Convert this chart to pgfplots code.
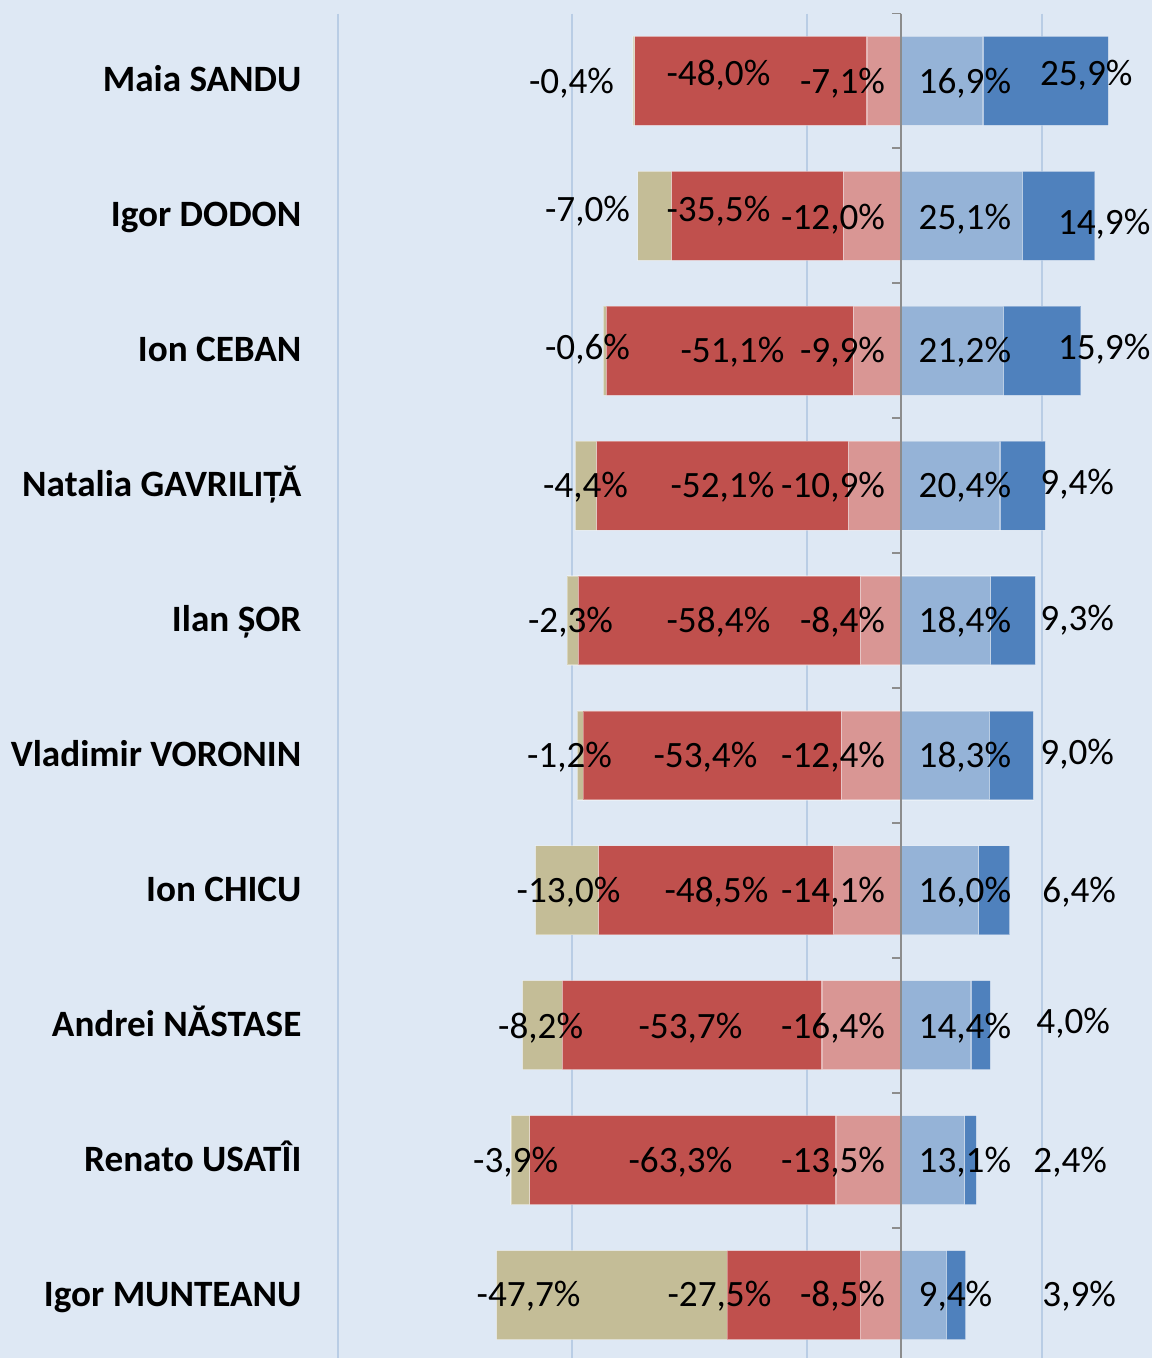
\documentclass[border=0pt]{standalone}
\usepackage{fontspec}
\setmainfont{Carlito}
\usepackage{pgfplots}
\pgfplotsset{compat=1.18}
\definecolor{bg}{HTML}{DEE8F4}
\definecolor{gridc}{HTML}{B9CDE5}
\definecolor{axc}{HTML}{8C8C8C}
\definecolor{tanc}{HTML}{C4BD97}
\definecolor{redc}{HTML}{C0504D}
\definecolor{pinkc}{HTML}{D99694}
\definecolor{lbc}{HTML}{95B3D7}
\definecolor{dbc}{HTML}{4F81BD}
\newcommand\lbl{\fontsize{18.6}{21}\selectfont}
% label: x in px, row, y offset of baseline in px, anchor, text
\newcommand{\lab}[5]{\node[anchor=#4,font=\lbl,inner sep=0pt] at (axis cs:{(#1-902)/4.84},{#2+(#3)/135}) {#5};}
\newcommand{\name}[2]{\node[anchor=base east,font=\lbl\bfseries,inner sep=0pt] at (axis cs:{(302-902)/4.84},{#1+11/135}) {#2};}
\pgfplotsset{
  frame/.style={
    at={(0,0)}, anchor=south west,
    width=576.5pt, height=672.75pt, scale only axis,
    xmin=-186.36, xmax=51.86,
    ymin=-0.5, ymax=9.467, y dir=reverse,
    hide axis, clip=false,
  },
  common/.style={
    frame,
    xbar stacked, bar width=0.66,
    every axis plot/.append style={draw=white, draw opacity=0.35, line width=0.6pt},
  }
}
\begin{document}
\begin{tikzpicture}
\fill[bg] (0,0) rectangle (576.5pt,679.5pt);
% grid lines (behind the bars)
\begin{axis}[frame]
\addplot[draw=none] coordinates {(0,0)};
\foreach \g in {338,572,808,1043}{
  \edef\tmp{\noexpand\draw[gridc, line width=1pt] (axis cs:{(\g-902)/4.84},-0.5) -- (axis cs:{(\g-902)/4.84},9.467);}
  \tmp
}
\end{axis}
% negative side
\begin{axis}[common]
\addplot[fill=pinkc] coordinates {(-7.1,0) (-12.0,1) (-9.9,2) (-10.9,3) (-8.4,4) (-12.4,5) (-14.1,6) (-16.4,7) (-13.5,8) (-8.5,9)};
\addplot[fill=redc] coordinates {(-48.0,0) (-35.5,1) (-51.1,2) (-52.1,3) (-58.4,4) (-53.4,5) (-48.5,6) (-53.7,7) (-63.3,8) (-27.5,9)};
\addplot[fill=tanc] coordinates {(-0.4,0) (-7.0,1) (-0.6,2) (-4.4,3) (-2.3,4) (-1.2,5) (-13.0,6) (-8.2,7) (-3.9,8) (-47.7,9)};
\end{axis}
% positive side
\begin{axis}[common]
\addplot[fill=lbc] coordinates {(16.9,0) (25.1,1) (21.2,2) (20.4,3) (18.4,4) (18.3,5) (16.0,6) (14.4,7) (13.1,8) (9.4,9)};
\addplot[fill=dbc] coordinates {(25.9,0) (14.9,1) (15.9,2) (9.4,3) (9.3,4) (9.0,5) (6.4,6) (4.0,7) (2.4,8) (3.9,9)};
\end{axis}
% axis line and labels
\begin{axis}[frame]
\addplot[draw=none] coordinates {(0,0)};
\draw[axc, line width=1pt] (axis cs:0,-0.5) -- (axis cs:0,9.467);
\foreach \t in {-0.5,0.5,1.5,2.5,3.5,4.5,5.5,6.5,7.5,8.5}{
  \edef\tmp{\noexpand\draw[axc, line width=1pt] (axis cs:0,\t) -- (axis cs:-1.86,\t);}
  \tmp
}
% category names
\name{0}{Maia SANDU}
\name{1}{Igor DODON}
\name{2}{Ion CEBAN}
\name{3}{Natalia GAVRILIȚĂ}
\name{4}{Ilan ȘOR}
\name{5}{Vladimir VORONIN}
\name{6}{Ion CHICU}
\name{7}{Andrei NĂSTASE}
\name{8}{Renato USATÎI}
\name{9}{Igor MUNTEANU}
% tan labels
\lab{572}{0}{12.4}{base}{-0,4\%}
\lab{588}{1}{5.4}{base}{-7,0\%}
\lab{588}{2}{8.4}{base}{-0,6\%}
\lab{586}{3}{12.1}{base}{-4,4\%}
\lab{571}{4}{12.1}{base}{-2,3\%}
\lab{570}{5}{12.1}{base}{-1,2\%}
\lab{569}{6}{12.4}{base}{-13,0\%}
\lab{541}{7}{13.4}{base}{-8,2\%}
\lab{516}{8}{12.4}{base}{-3,9\%}
\lab{529}{9}{11.4}{base}{-47,7\%}
% red labels
\lab{719}{0}{4.9}{base}{-48,0\%}
\lab{719}{1}{5.4}{base}{-35,5\%}
\lab{733}{2}{12.1}{base}{-51,1\%}
\lab{723}{3}{12.1}{base}{-52,1\%}
\lab{719}{4}{12.1}{base}{-58,4\%}
\lab{706}{5}{12.1}{base}{-53,4\%}
\lab{717}{6}{12.4}{base}{-48,5\%}
\lab{691}{7}{13.4}{base}{-53,7\%}
\lab{681}{8}{12.4}{base}{-63,3\%}
\lab{720}{9}{11.4}{base}{-27,5\%}
% pink labels
\lab{886}{0}{12.4}{base east}{-7,1\%}
\lab{886}{1}{13.4}{base east}{-12,0\%}
\lab{886}{2}{12.1}{base east}{-9,9\%}
\lab{886}{3}{12.1}{base east}{-10,9\%}
\lab{886}{4}{12.1}{base east}{-8,4\%}
\lab{886}{5}{12.1}{base east}{-12,4\%}
\lab{886}{6}{12.4}{base east}{-14,1\%}
\lab{886}{7}{13.4}{base east}{-16,4\%}
\lab{886}{8}{12.4}{base east}{-13,5\%}
\lab{886}{9}{11.4}{base east}{-8,5\%}
% light blue labels
\lab{919}{0}{12.4}{base west}{16,9\%}
\lab{919}{1}{13.4}{base west}{25,1\%}
\lab{919}{2}{12.1}{base west}{21,2\%}
\lab{919}{3}{12.1}{base west}{20,4\%}
\lab{919}{4}{12.1}{base west}{18,4\%}
\lab{919}{5}{12.1}{base west}{18,3\%}
\lab{919}{6}{12.4}{base west}{16,0\%}
\lab{919}{7}{13.4}{base west}{14,4\%}
\lab{919}{8}{12.4}{base west}{13,1\%}
\lab{919}{9}{11.4}{base west}{9,4\%}
% dark blue labels
\lab{1087}{0}{4.9}{base}{25,9\%}
\lab{1105}{1}{18.4}{base}{14,9\%}
\lab{1105}{2}{8.4}{base}{15,9\%}
\lab{1078}{3}{8.4}{base}{9,4\%}
\lab{1078}{4}{9.9}{base}{9,3\%}
\lab{1078}{5}{9.4}{base}{9,0\%}
\lab{1080}{6}{12.4}{base}{6,4\%}
\lab{1074}{7}{8.4}{base}{4,0\%}
\lab{1071}{8}{12.4}{base}{2,4\%}
\lab{1080}{9}{11.4}{base}{3,9\%}
\end{axis}
\end{tikzpicture}
\end{document}
